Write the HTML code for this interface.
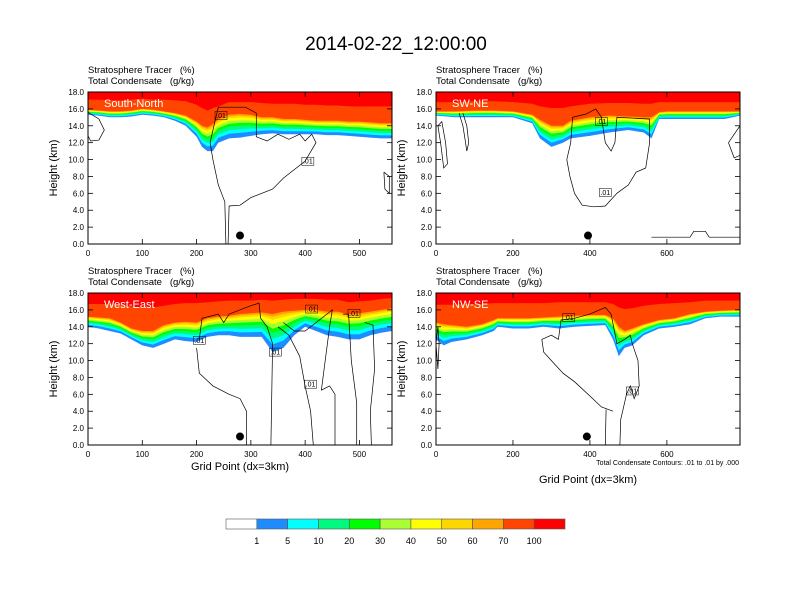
<!DOCTYPE html>
<html><head><meta charset="utf-8">
<style>
html,body{margin:0;padding:0;background:#fff;}
svg{display:block;font-family:"Liberation Sans",sans-serif;}
</style></head>
<body>
<svg id="fig" width="792" height="612" viewBox="0 0 792 612" xmlns="http://www.w3.org/2000/svg">
<text x="396" y="50" font-size="19" text-anchor="middle" fill="#000">2014-02-22_12:00:00</text>
<g id="panels"></g>
<g id="colorbar"></g>
</svg>
<script>
// ---------- data ----------
const panelNames = ["South-North","SW-NE","West-East","NW-SE"];
const panelXmax = [560,790,560,790];
const xTicksA = [0,100,200,300,400,500];
const xTicksB = [0,200,400,600];
const yTicks = [0,2,4,6,8,10,12,14,16,18];
const yTickLabels = ["0.0","2.0","4.0","6.0","8.0","10.0","12.0","14.0","16.0","18.0"];

const snX   = [0,20,40,60,80,100,120,140,160,180,200,210,220,230,240,260,280,300,320,340,360,380,400,420,440,460,480,500,520,540,560];
const snBase= [15.3,15.2,15.0,15.0,15.1,15.3,15.2,15.0,14.6,14.0,12.7,11.5,11.0,11.0,12.0,12.5,12.6,12.8,13.0,13.1,13.0,13.0,13.0,13.0,12.9,12.9,12.8,12.7,12.6,12.5,12.5];
const sn70  = [15.9,15.8,15.7,15.7,15.8,16.0,15.9,15.7,15.5,15.2,14.5,14.0,13.8,14.2,14.8,15.3,15.4,15.3,15.0,15.0,14.8,14.8,14.7,14.6,14.6,14.6,14.5,14.5,14.4,14.3,14.3];
const sn100 = [17.1,17.1,17.0,17.0,17.1,17.2,17.1,17.1,17.0,16.9,16.5,16.1,15.8,16.1,16.3,16.8,16.8,16.8,16.7,16.6,16.6,16.6,16.5,16.5,16.4,16.4,16.3,16.3,16.3,16.3,16.3];

const swX   = [0,50,100,150,200,250,270,300,330,350,400,450,500,540,560,580,600,650,700,750,790];
const swBase= [15.2,15.0,15.0,15.0,15.0,14.3,12.5,11.5,12.0,12.5,12.8,13.2,13.5,13.2,12.5,14.8,14.8,14.8,14.8,14.8,15.2];
const sw70  = [15.7,15.7,15.8,15.8,15.7,15.3,14.7,14.0,14.0,14.6,15.0,15.2,15.1,15.0,15.0,15.6,15.7,15.7,15.7,15.7,15.7];
const sw100 = [16.8,16.8,16.9,16.9,16.8,16.6,16.3,16.1,16.1,16.3,16.6,16.7,16.7,16.6,16.6,16.8,16.8,16.8,16.8,16.8,16.8];

const weX   = [0,20,40,60,80,100,120,140,160,180,200,220,240,260,280,300,320,340,360,380,400,420,440,460,480,500,520,540,560];
const weBase= [14.0,13.8,13.5,13.2,12.5,11.8,11.5,12.0,12.5,12.3,12.2,12.8,13.0,13.0,12.8,12.8,12.8,11.0,11.5,13.0,14.0,13.5,13.0,12.8,12.5,12.5,13.0,13.3,13.5];
const we70  = [15.2,15.1,15.0,14.5,13.8,13.5,13.5,14.2,14.5,14.6,14.5,15.0,15.2,15.3,15.5,15.6,15.7,15.5,15.8,15.9,16.0,16.0,15.8,15.8,15.5,15.6,15.8,16.0,16.2];
const we100 = [16.7,16.7,16.7,16.6,16.4,16.3,16.3,16.5,16.7,16.8,16.8,16.9,17.0,17.1,17.1,17.1,17.2,17.1,17.2,17.3,17.3,17.3,17.2,17.2,16.9,17.0,17.1,17.3,17.4];

const nwX   = [0,20,40,80,120,150,160,200,240,280,320,360,400,440,460,475,490,510,540,580,620,660,700,740,790];
const nwBase= [12.5,11.8,12.2,12.5,13.0,13.5,14.0,13.8,13.8,14.0,13.8,14.0,14.1,14.2,12.5,10.5,11.5,11.8,13.0,13.8,14.0,14.3,15.0,15.2,15.2];
const nw70  = [14.5,14.3,14.2,14.0,14.3,14.8,15.0,15.0,15.0,15.1,15.2,15.3,15.4,15.4,15.0,14.0,13.5,13.8,14.3,14.8,15.0,15.5,15.8,15.9,16.0];
const nw100 = [16.6,16.6,16.6,16.7,16.7,16.8,16.8,16.8,16.8,16.8,16.9,16.9,16.9,16.9,16.7,16.3,16.1,16.2,16.5,16.7,16.8,16.9,17.1,17.1,17.1];

const snContours = [
 [[258,0],[260,4.5],[280,4.6],[300,5.5],[340,6.5],[360,7.8],[400,9.8],[420,12],[412,13],[400,12.2],[390,13],[370,12.4],[350,13],[330,12.2],[310,12.7],[310,15.5],[290,16.2],[240,16.2],[232,14],[225,12],[230,10],[240,7],[252,5],[254,0]],
 [[0,15.6],[20,14.8],[30,13.5],[20,12.3],[5,12.2],[0,12.8]],
 [[545,8.5],[555,8],[555,6],[547,6.5],[545,8.5]]
];
const swContours = [
 [[340,10],[350,12],[355,15],[390,15.4],[415,16],[430,15],[440,12],[455,11],[465,12],[470,15],[555,14.8],[555,12],[545,9],[520,8.5],[500,7],[470,6],[440,4.5],[410,4.4],[380,4.6],[360,6],[348,8],[340,10]],
 [[5,14],[15,14.5],[25,12],[30,9.5],[20,9],[12,12],[5,14]],
 [[60,15.5],[70,14],[75,12.5],[80,11],[85,12],[80,14],[70,15.5]],
 [[760,12],[775,13],[790,14],[790,10.5],[775,10.2],[760,12]],
 [[560,0.8],[660,0.8],[670,1.5],[700,1.5],[710,0.8],[790,0.8]]
];
const weContours = [
 [[200,11.5],[205,8.5],[230,7],[260,6],[280,5.5],[292,4],[292,0]],
 [[205,12.5],[210,15],[240,15.5],[250,14.5],[260,15.5],[300,16.5],[315,16.8],[318,15],[330,14],[340,12],[337,0]],
 [[350,14],[370,13],[390,10.5],[400,7],[410,4],[415,0]],
 [[360,14.5],[380,13.5],[400,13.5],[420,14.5],[440,15.5],[450,16],[445,14],[435,9],[430,6.5],[445,7],[455,6],[455,0]],
 [[470,15.5],[480,15.5],[485,10],[495,5],[495,0]],
 [[510,14.5],[525,14.2],[528,9],[520,4],[522,0]]
];
const nwContours = [
 [[275,12.5],[300,13],[318,12.5],[325,14.8],[360,15],[400,15.5],[440,16.3],[455,15.5],[470,12],[490,12.5],[505,13],[510,12],[525,10],[528,7],[515,5.5],[505,7],[495,6],[480,3],[478,0]],
 [[460,4],[430,4.5],[400,5.8],[360,7.5],[330,8.5],[300,10],[280,11],[275,12.5]],
 [[440,0],[442,4.2]],
 [[0,12],[5,9],[8,12],[5,14],[0,12]]
];
const panelX = [snX,swX,weX,nwX];
const panelBase = [snBase,swBase,weBase,nwBase];
const panel70 = [sn70,sw70,we70,nw70];
const panel100 = [sn100,sw100,we100,nw100];
const panelContours = [snContours,swContours,weContours,nwContours];
const markerX = [280,395,280,392];
const markerH = [1,1,1,1];
const labelPts = [[[245,15.2],[405,9.8]],[[430,14.5],[440,6.1]],[[205,12.4],[345,11],[410,7.2],[412,16.1],[490,15.6]],[[345,15.1],[510,6.4]]];

const cbLabels = ["1","5","10","20","30","40","50","60","70","100"];
const cbColors = ["#ffffff","#1e8cff","#00ffff","#00fa80","#00ff00","#aaff33","#ffff00","#ffd700","#ffa500","#ff4500","#ff0000"];
const bandFrac = [0,0.2,0.35,0.5,0.62,0.74,0.85,0.93];

// ---------- drawing ----------
const NS = "http://www.w3.org/2000/svg";
function mk(tag, attrs, parent){const e=document.createElementNS(NS,tag);for(const k in attrs)e.setAttribute(k,attrs[k]);parent.appendChild(e);return e;}
const origins = [[88,92],[436,92],[88,293],[436,293]];
const W=304,H=152;
const panelsG=document.getElementById('panels');
for(let p=0;p<4;p++){
  const [x0,y0]=origins[p]; const xmax=panelXmax[p];
  const sx=x=>x0+x/xmax*W, sy=h=>y0+H-h/18*H;
  const g=mk('g',{},panelsG);
  
  
  const cp=mk('clipPath',{id:'clip'+p},g); mk('rect',{x:x0,y:y0,width:W,height:H},cp);
  const plot=mk('g',{'clip-path':'url(#clip'+p+')'},g);
  const xs=panelX[p],b=panelBase[p],l70=panel70[p],l100=panel100[p];
  function fillLevel(hs,color,name){
    let d='M'+sx(xs[0])+','+sy(18.5);
    for(let i=0;i<xs.length;i++) d+=' L'+sx(xs[i]).toFixed(1)+','+sy(hs[i]).toFixed(1);
    d+=' L'+sx(xs[xs.length-1])+','+sy(18.5)+' Z';
    const e=mk('path',{d:d,fill:color},plot);
    
    
  }
  for(let k=0;k<bandFrac.length;k++){
    fillLevel(b.map((v,i)=>v+bandFrac[k]*(l70[i]-v)),cbColors[k+1],'tracer-band-'+cbLabels[k]);
  }
  fillLevel(l70,cbColors[9],'tracer-band-70');
  fillLevel(l100,cbColors[10],'tracer-band-100');
  panelContours[p].forEach((c,ci)=>{
    const e=mk('polyline',{points:c.map(q=>sx(q[0]).toFixed(1)+','+sy(q[1]).toFixed(1)).join(' '),fill:'none',stroke:'#000','stroke-width':0.7},plot);
    
    
  });
  labelPts[p].forEach(q=>{
    const lg=mk('g',{},plot);
    
    
    mk('rect',{x:sx(q[0])-6,y:sy(q[1])-4,width:12,height:8,fill:'none',stroke:'#000','stroke-width':0.5},lg);
    const t=mk('text',{x:sx(q[0]),y:sy(q[1])+2.5,'font-size':7,'text-anchor':'middle'},lg); t.textContent='.01';
  });
  const m=mk('circle',{cx:sx(markerX[p]),cy:sy(markerH[p]),r:4,fill:'#000'},plot);
  
  
  const nm=mk('text',{x:x0+16,y:y0+15,'font-size':11,fill:'#fff'},g); nm.textContent=panelNames[p];
  
  
  mk('rect',{x:x0,y:y0,width:W,height:H,fill:'none',stroke:'#000','stroke-width':1},g);
  yTicks.forEach((v,i)=>{
    const y=sy(v);
    mk('line',{x1:x0,x2:x0+5,y1:y,y2:y,stroke:'#000','stroke-width':0.8},g);
    mk('line',{x1:x0+W,x2:x0+W-5,y1:y,y2:y,stroke:'#000','stroke-width':0.8},g);
    const t=mk('text',{x:x0-4,y:y+3,'font-size':8,'text-anchor':'end'},g); t.textContent=yTickLabels[i];
     
  });
  const xt = xmax===560?xTicksA:xTicksB;
  xt.forEach(v=>{
    const x=sx(v);
    mk('line',{x1:x,x2:x,y1:y0+H,y2:y0+H-5,stroke:'#000','stroke-width':0.8},g);
    mk('line',{x1:x,x2:x,y1:y0,y2:y0+5,stroke:'#000','stroke-width':0.8},g);
    const t=mk('text',{x:x,y:y0+H+12,'font-size':8,'text-anchor':'middle'},g); t.textContent=String(v);
     
  });
  const s1=mk('text',{x:x0,y:y0-19,'font-size':9.5},g); s1.textContent='Stratosphere Tracer   (%)';
  s1.style.whiteSpace='pre';
   
  const s2=mk('text',{x:x0,y:y0-8,'font-size':9.5},g); s2.textContent='Total Condensate   (g/kg)';
  s2.style.whiteSpace='pre';
   
  const yl=mk('text',{x:0,y:0,'font-size':11,'text-anchor':'middle',transform:'translate('+(x0-31)+','+(y0+H/2)+') rotate(-90)'},g); yl.textContent='Height (km)';
   
}
const f=document.getElementById('fig');
let t=mk('text',{x:240,y:470,'font-size':11,'text-anchor':'middle'},f); t.textContent='Grid Point (dx=3km)';
 
t=mk('text',{x:588,y:483,'font-size':11,'text-anchor':'middle'},f); t.textContent='Grid Point (dx=3km)';
 
t=mk('text',{x:739,y:465,'font-size':7,'text-anchor':'end'},f); t.textContent='Total Condensate Contours: .01 to .01 by .000';
 
const cb=document.getElementById('colorbar');
const cbx=226,cbw=339/11;
cbColors.forEach((c,i)=>{
  const r=mk('rect',{x:cbx+i*cbw,y:519,width:cbw,height:10,fill:c,stroke:'#555','stroke-width':0.6},cb);
   
});
cbLabels.forEach((l,i)=>{
  const tt=mk('text',{x:cbx+(i+1)*cbw,y:544,'font-size':9,'text-anchor':'middle'},cb); tt.textContent=l;
   
});
</script>
</body></html>
